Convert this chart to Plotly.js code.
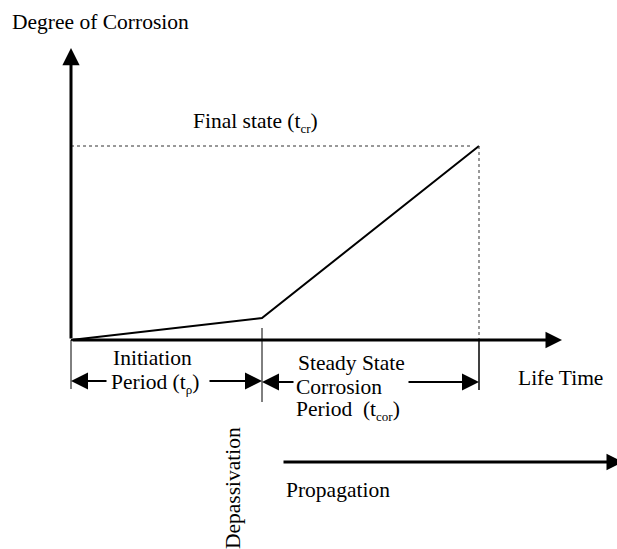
<!DOCTYPE html>
<html>
<head>
<meta charset="utf-8">
<script src="https://cdn.plot.ly/plotly-3.0.1.min.js"></script>
<style>html,body{margin:0;padding:0;background:#fff;}#chart{width:617px;height:549px;}</style>
</head>
<body>
<div id="chart"></div>
<script>
// Schematic data (life time on x, degree of corrosion on y)
const lifeTime = [0, 191, 408];          // origin, depassivation, final state
const corrosion = [0, 22, 194];          // degree of corrosion at those times
const tDepassivation = 191;
const tFinal = 408;
const finalLevel = 194;
const axisEndX = 491;
const axisEndY = 292;

const FONT = {family: 'Liberation Serif, Times New Roman, serif', size: 21.5, color: '#000'};

const traces = [{
  x: lifeTime, y: corrosion, mode: 'lines', type: 'scatter',
  line: {color: '#000', width: 2}, hoverinfo: 'skip', showlegend: false
}];

function arrow(x0, y0, x1, y1, w, s) {
  return {x: x1, y: y1, ax: x0, ay: y0, xref: 'x', yref: 'y', axref: 'x', ayref: 'y',
    text: '', showarrow: true, arrowhead: 2, arrowwidth: w, arrowsize: s, arrowcolor: '#000',
    standoff: 0, startstandoff: 0};
}
function label(x, y, text, extra) {
  return Object.assign({x: x, y: y, xref: 'x', yref: 'y', text: text, showarrow: false,
    xanchor: 'center', yanchor: 'middle', font: FONT}, extra || {});
}
const sub = s => '<sub><span style="font-size:13px">' + s + '</span></sub>';

const annotations = [
  arrow(0, 0, 0, axisEndY, 3, 1.15),
  arrow(0, 0, axisEndX, 0, 3, 1.1),
  arrow(37, -41, 0, -41, 2, 1.7),
  arrow(137, -41, tDepassivation, -41, 2, 1.7),
  arrow(224, -42, tDepassivation, -42, 2, 1.7),
  arrow(336, -42, tFinal, -42, 2, 1.7),
  arrow(211, -122, 552, -122, 3, 1.1),
  label(29, 318, 'Degree of Corrosion'),
  label(184, 218, 'Final state (t' + sub('cr') + ')'),
  label(81, -18, 'Initiation'),
  label(84, -43, 'Period (t' + sub('ρ') + ')'),
  label(280, -23, 'Steady State'),
  label(268, -47, 'Corrosion'),
  label(277, -70, 'Period  (t' + sub('cor') + ')'),
  label(489, -38, 'Life Time'),
  label(162, -148, 'Depassivation', {textangle: -90}),
  label(267, -150, 'Propagation')
];

const shapes = [
  {type: 'line', x0: 0, x1: 0, y0: 0, y1: -49, line: {color: '#000', width: 1}},
  {type: 'line', x0: tDepassivation, x1: tDepassivation, y0: 12, y1: -62, line: {color: '#000', width: 1}},
  {type: 'line', x0: tFinal, x1: tFinal, y0: 0, y1: -50, line: {color: '#000', width: 1.5}},
  {type: 'line', x0: 0, x1: tFinal - 6, y0: finalLevel, y1: finalLevel, line: {color: '#333', width: 1, dash: 'dot'}},
  {type: 'line', x0: tFinal, x1: tFinal, y0: finalLevel, y1: 0, line: {color: '#333', width: 1, dash: 'dot'}}
];

const layout = {
  width: 617, height: 549,
  margin: {l: 0, r: 0, t: 0, b: 0},
  paper_bgcolor: '#fff', plot_bgcolor: '#fff',
  xaxis: {range: [-71, 546], visible: false, fixedrange: true},
  yaxis: {range: [-209, 340], visible: false, fixedrange: true},
  showlegend: false,
  annotations: annotations,
  shapes: shapes,
  font: FONT
};

Plotly.newPlot('chart', traces, layout, {staticPlot: true, displayModeBar: false});
</script>
</body>
</html>
